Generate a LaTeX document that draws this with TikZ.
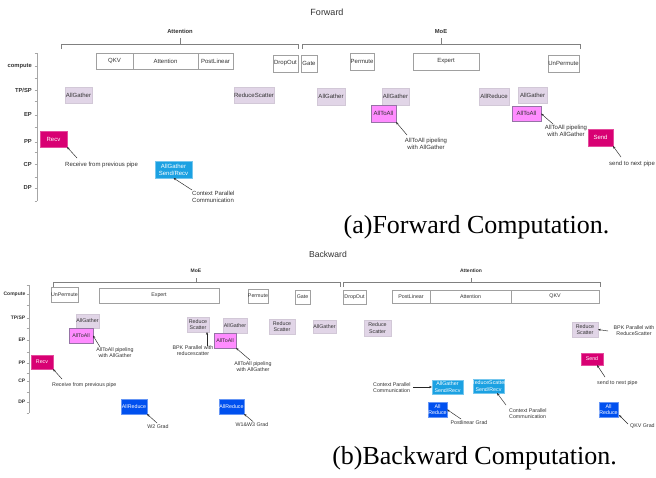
\documentclass[tikz,border=0pt]{standalone}
\usepackage{fontspec}
\setmainfont{Liberation Sans}
\newfontfamily\capfont{Liberation Serif}
\usetikzlibrary{calc,arrows.meta}
\definecolor{cmpd}{HTML}{A0A0A0}
\definecolor{agf}{HTML}{E1D5E7}
\definecolor{a2af}{HTML}{FF8CFF}
\definecolor{a2ad}{HTML}{9673A6}
\definecolor{ppf}{HTML}{D80073}
\definecolor{cpf}{HTML}{1BA1E2}
\definecolor{dpf}{HTML}{0050EF}
\definecolor{dotc}{HTML}{F07090}
\definecolor{txt}{HTML}{333333}
\pgfdeclarelayer{bg}
\pgfsetlayers{bg,main}
% box by corners: style, name, x1, y1, x2, y2, text
\newcommand\bxc[7]{\node[#1, minimum width={(#5)-(#3)}, minimum height={(#6)-(#4)}] (#2) at ({((#3)+(#5))/2},{((#4)+(#6))/2}) {#7};}
\tikzset{
 fs/.style={font=\fontsize{6}{7}\selectfont},
 bs/.style={font=\fontsize{5.3}{6.2}\selectfont},
 bx/.style={inner sep=0pt, outer sep=0pt, align=center, anchor=center},
 comp/.style={bx, draw=cmpd, fill=white, line width=0.6pt, text=txt},
 ag/.style={bx, fill=agf, draw=agf!85!gray, line width=0.3pt, text=txt},
 a2a/.style={bx, fill=a2af, draw=a2ad, line width=0.6pt, text=txt},
 ppb/.style={bx, fill=ppf, draw=ppf!70!white, line width=0.5pt, text=white},
 cpb/.style={bx, fill=cpf, draw=cpf!60!white, line width=0.5pt, text=white},
 dpb/.style={bx, fill=dpf, draw=dpf!60!white, line width=0.5pt, text=white},
 note/.style={inner sep=0pt, align=center, text=txt},
 notel/.style={inner sep=0pt, align=left, text=txt},
 arr/.style={-{Stealth[length=2.8pt,width=2.2pt]}, line width=0.45pt, draw=black!85},
 brk/.style={draw=gray, line width=0.7pt},
 axc/.style={draw=gray!70, line width=0.6pt},
 faxl/.style={inner sep=0pt, anchor=east, text=txt, font=\bfseries\fontsize{5.8}{6}\selectfont},
 baxl/.style={inner sep=0pt, anchor=east, text=txt, font=\bfseries\fontsize{5}{6}\selectfont},
 fbrl/.style={inner sep=0pt, text=txt, font=\bfseries\fontsize{5.8}{6}\selectfont},
 bbrl/.style={inner sep=0pt, text=txt, font=\bfseries\fontsize{5}{6}\selectfont},
 dotl/.style={draw=dotc, densely dotted, line width=0.6pt},
 capt/.style={inner sep=0pt, font=\capfont\fontsize{26}{30}\selectfont},
 ttl/.style={inner sep=0pt, text=txt},
}
\begin{document}
\begin{tikzpicture}[x=1pt,y=-1pt]
\fill[white] (0,0) rectangle (656,477);
\useasboundingbox (0,0) rectangle (656,477);

%================ FORWARD =================
\node[ttl, font=\fontsize{9}{10}\selectfont] (ftitle) at (327,12) {Forward};
\node[fbrl] (fattl) at (180,31) {Attention};
\node[fbrl] (fmoel) at (441,32) {MoE};
\draw[brk] (61,49) -- (61,44) -- (298,44) -- (298,49);
\draw[brk] (180,44) -- (180,38);
\draw[brk] (302,49) -- (302,44) -- (580,44) -- (580,49);
\draw[brk] (441,44) -- (441,38);

% axis
\draw[axc] (37,53) -- (37,201);
\foreach \y in {53,66,78,90,101,115,127,142,152,164,177,188,201} \draw[axc] (34.5,\y) -- (37,\y);
\node[faxl] (fl1) at (32,66) {compute};
\node[faxl] (fl2) at (32,90) {TP/SP};
\node[faxl] (fl3) at (32,115) {EP};
\node[faxl] (fl4) at (32,142) {PP};
\node[faxl] (fl5) at (32,164) {CP};
\node[faxl] (fl6) at (32,188) {DP};

% compute
\bxc{comp, fs}{fqkv}{96}{53}{133}{69}{QKV}
\bxc{comp, fs}{fatt}{133}{53}{198}{69}{Attention}
\bxc{comp, fs}{fpost}{198}{53}{233}{69}{PostLinear}
\bxc{comp, fs}{fdrop}{273}{55}{298}{72}{DropOut}
\bxc{comp, fs}{fgate}{301}{55}{317}{72}{Gate}
\bxc{comp, fs}{fperm}{350}{53}{374}{70}{Permute}
\bxc{comp, fs}{fexp}{413}{53}{479}{70}{Expert}
\bxc{comp, fs}{funp}{548}{55}{579}{72}{UnPermute}

% TP/SP
\bxc{ag, fs}{fag1}{65}{87}{92}{103}{AllGather}
\bxc{ag, fs}{frs}{234}{87}{274}{103}{ReduceScatter}
\bxc{ag, fs}{fag2}{317}{88}{345}{105}{AllGather}
\bxc{ag, fs}{fag3}{382}{88}{409}{105}{AllGather}
\bxc{ag, fs}{far}{479}{88}{509}{105}{AllReduce}
\bxc{ag, fs}{fag4}{518}{87}{547}{103}{AllGather}

% EP
\bxc{a2a, fs}{fa2a1}{371}{105}{396}{122}{AllToAll}
\bxc{a2a, fs}{fa2a2}{512}{106}{541}{121}{AllToAll}
\node[note, fs] (fn1) at (426,143.5) {AllToAll pipeling\\with AllGather};
\coordinate (fn1a) at (407,135);
\draw[arr] (fn1a) -- (fa2a1.south east);
\node[note, fs] (fn2) at (566,130.5) {AllToAll pipeling\\with AllGather};
\coordinate (fn2a) at (553,124);
\draw[arr] (fn2a) -- (fa2a2.east);

% PP
\bxc{ppb, fs}{frecv}{40}{131}{67}{147}{Recv}
\node[note, fs, anchor=west] (fn3) at (65,165) {Receive from previous pipe};
\coordinate (fn3a) at (77,158);
\draw[arr] (fn3a) -- (frecv.south east);
\bxc{ppb, fs}{fsend}{588}{129}{613}{146}{Send}
\node[note, fs, anchor=west] (fn4) at (609,164) {send to next pipe};
\coordinate (fn4a) at (621,157);
\draw[arr] (fn4a) -- (fsend.south east);

% CP
\bxc{cpb, fs}{fcp}{155}{161}{192}{178}{AllGather\\Send/Recv}
\node[notel, fs, anchor=north west] (fn5) at (192,190.5) {Context Parallel\\Communication};
\coordinate (fn5a) at (192,190);
\draw[arr] (fn5a) -- (fcp.south);

\node[capt] (capa) at (476.5,227) {(a)Forward Computation.};

%================ BACKWARD =================
\node[ttl, font=\fontsize{8.6}{10}\selectfont] (btitle) at (328,254) {Backward};
\node[bbrl] (bmoel) at (196,271) {MoE};
\node[bbrl] (battl) at (471,271) {Attention};
\draw[brk] (53,287) -- (53,282) -- (340,282) -- (340,287);
\draw[brk] (196,282) -- (196,278);
\draw[brk] (343,287) -- (343,282) -- (600,282) -- (600,287);
\draw[brk] (471,282) -- (471,278);

% axis
\draw[axc] (29,285) -- (29,413);
\foreach \y in {285,294,305,318,328,340,352,363,373,381,392,402,413} \draw[axc] (26.5,\y) -- (29,\y);
\node[baxl] (bl1) at (25.5,294) {Compute};
\node[baxl] (bl2) at (25.5,318) {TP/SP};
\node[baxl] (bl3) at (25.5,340) {EP};
\node[baxl] (bl4) at (25.5,363) {PP};
\node[baxl] (bl5) at (25.5,381) {CP};
\node[baxl] (bl6) at (25.5,402) {DP};

% compute
\bxc{comp, bs}{bunp}{52}{287}{77}{302}{UnPermute}
\bxc{comp, bs}{bexp}{99}{288}{219}{303}{Expert}
\bxc{comp, bs}{bperm}{248}{289}{268}{303}{Permute}
\bxc{comp, bs}{bgate}{295}{290}{310}{304}{Gate}
\bxc{comp, bs}{bdrop}{343}{290}{366}{304}{DropOut}
\bxc{comp, bs}{bpost}{392}{290}{430}{303}{PostLinear}
\bxc{comp, bs}{batt}{430}{290}{511}{303}{Attention}
\bxc{comp, bs}{bqkv}{511}{290}{599}{303}{QKV}

% DP
\bxc{dpb, bs}{bar1}{121}{399}{147}{414}{AllReduce}
\bxc{dpb, bs}{bar2}{219}{399}{244}{414}{AllReduce}
\bxc{dpb, bs}{bar3}{428}{402}{447}{417}{All\\Reduce}
\bxc{dpb, bs}{bar4}{599}{402}{618}{417}{All\\Reduce}

% dotted lines
\coordinate (d2a) at (438,303.5);
\coordinate (d2b) at (438,423);
\coordinate (d3b) at (598,420);
\begin{pgfonlayer}{bg}
\draw[dotl] (bexp.south east) -- (bar2.north west);
\draw[dotl] (d2a) -- (d2b);
\draw[dotl] ($(bqkv.south east)+(-1,0)$) -- (d3b);
\end{pgfonlayer}

% TP/SP
\bxc{ag, bs}{bag1}{76}{314}{99}{328}{AllGather}
\bxc{ag, bs}{brs1}{187}{317}{209}{332}{Reduce\\Scatter}
\bxc{ag, bs}{bag2}{223}{318}{247}{333}{AllGather}
\bxc{ag, bs}{brs2}{269}{319}{295}{334}{Reduce\\Scatter}
\bxc{ag, bs}{bag3}{313}{320}{336}{333}{AllGather}
\bxc{ag, bs}{brs3}{364}{320}{391}{336}{Reduce\\Scatter}
\bxc{ag, bs}{brs4}{572}{322}{598}{337}{Reduce\\Scatter}
\node[note, bs] (bn1) at (634,331) {BPK Parallel with\\ReduceScatter};
\coordinate (bn1a) at (608,331);
\draw[arr] (bn1a) -- (brs4.east);

% EP
\bxc{a2a, bs}{ba2a1}{69}{328}{93}{343}{AllToAll}
\node[note, bs] (bn2) at (115,352.5) {AllToAll pipeling\\with AllGather};
\coordinate (bn2a) at (100,347);
\draw[arr] (bn2a) -- (ba2a1.east);
\bxc{a2a, bs}{ba2a2}{214}{333}{236}{348}{AllToAll}
\node[note, bs] (bn3) at (253,366.5) {AllToAll pipeling\\with AllGather};
\coordinate (bn3a) at (250,360);
\draw[arr] (bn3a) -- (ba2a2.south east);
\node[note, bs] (bn4) at (193,350.5) {BPK Parallel with\\reducescatter};
\coordinate (bn4a) at (207,346);
\draw[arr] (bn4a) -- ($(brs1.south east)+(-2,0)$);

% PP
\bxc{ppb, bs}{brecv}{31}{355}{53}{369}{Recv}
\node[note, bs, anchor=west] (bn5) at (52,385) {Receive from previous pipe};
\coordinate (bn5a) at (62,379);
\draw[arr] (bn5a) -- (brecv.south east);
\bxc{ppb, bs}{bsend}{581}{353}{603}{365}{Send}
\node[note, bs, anchor=west] (bn6) at (597,383) {send to next pipe};
\coordinate (bn6a) at (605,377);
\draw[arr] (bn6a) -- ($(bsend.south)+(5,0)$);

% CP
\bxc{cpb, bs}{bcp1}{432}{380}{463}{394}{AllGather\\Send/Recv}
\node[notel, bs, anchor=west] (bn7) at (373,387.5) {Context Parallel\\Communication};
\coordinate (bn7a) at (413,387);
\draw[arr] (bn7a) -- (bcp1.west);
\bxc{cpb, bs}{bcp2}{473}{379}{504}{393}{}
\begin{scope}
\clip (473,379) rectangle (504,393);
\node[bx, bs, text=white] (bcp2t) at (bcp2.center) {ReduceScatter\\Send/Recv};
\end{scope}
\node[notel, bs, anchor=west] (bn8) at (509,413.5) {Context Parallel\\Communication};
\coordinate (bn8a) at (506,405);
\draw[arr] (bn8a) -- ($(bcp2.south east)+(-7,0)$);

% DP annotations
\node[note, bs] (bn9) at (158,427) {W2 Grad};
\coordinate (bn9a) at (157,423);
\draw[arr] (bn9a) -- (bar1.south east);
\node[note, bs] (bn10) at (252,425) {W1\&W3 Grad};
\coordinate (bn10a) at (253,421.5);
\draw[arr] (bn10a) -- (bar2.south east);
\node[note, bs] (bn11) at (469,422.5) {Postlinear Grad};
\coordinate (bn11a) at (461,419);
\draw[arr] (bn11a) -- (bar3.east);
\node[note, bs, anchor=west] (bn12) at (630,426) {QKV Grad};
\coordinate (bn12a) at (628,424);
\draw[arr] (bn12a) -- ($(bar4.south east)+(1,-2)$);

\node[capt] (capb) at (474.5,458) {(b)Backward Computation.};
\end{tikzpicture}
\end{document}
